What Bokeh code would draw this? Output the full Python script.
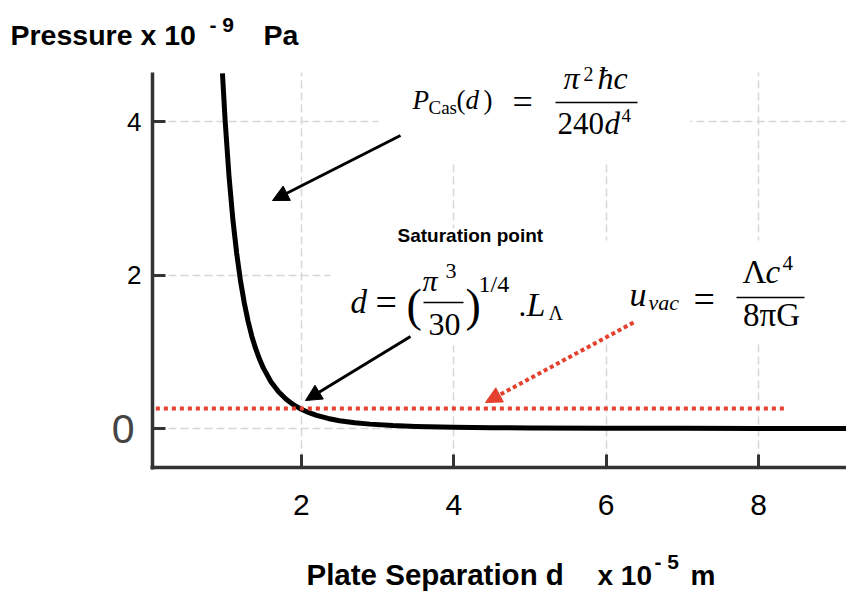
from bokeh.plotting import figure
from bokeh.models import (Range1d, FixedTicker, Label, Arrow, NormalHead, BoxAnnotation,
                          LinearAxis, Grid)
from bokeh.embed import file_html
from bokeh.resources import INLINE

# ---------------- data ----------------
separation = [0.964, 1.00, 1.05, 1.10, 1.15, 1.20, 1.25, 1.30, 1.35, 1.40, 1.45,
              1.50, 1.60, 1.70, 1.80, 1.90, 2.00, 2.10, 2.20, 2.35, 2.50, 2.70,
              2.90, 3.20, 3.50, 4.00, 4.50, 5.00, 6.00, 7.00, 8.00, 9.30]
pressure = [4.63, 4.00, 3.29, 2.73, 2.29, 1.93, 1.64, 1.40, 1.20, 1.04, 0.905,
            0.79, 0.61, 0.479, 0.381, 0.307, 0.25, 0.206, 0.171, 0.131, 0.102, 0.075,
            0.057, 0.038, 0.027, 0.016, 0.010, 0.0064, 0.0031, 0.0017, 0.001, 0.0005]

saturation_x = [0.09, 8.35]
saturation_y = [0.26, 0.26]

x_ticks = [2, 4, 6, 8]
x_tick_labels = ["2", "4", "6", "8"]
y_ticks = [0, 2, 4]
y_tick_labels = ["0", "2", "4"]

# ---------------- geometry (page pixels -> data) ----------------
W, H = 846, 592
AX_L, AX_T, AX_B = 152, 72, 467      # plot-area edges on the page

D0_PAGE, PX_PER_D = 148.5, 76.2
P0_PAGE, PX_PER_P = 428.0, 76.7


def dx(px):
    return (px - D0_PAGE) / PX_PER_D


def dy(py):
    return (P0_PAGE - py) / PX_PER_P


SANS = "Liberation Sans"
SERIF = "Liberation Serif"
RED = "#e5402d"
AXIS = "#333333"

p = figure(width=W, height=H, output_backend="svg", toolbar_location=None,
           x_range=Range1d(dx(0), dx(W)), y_range=Range1d(dy(H), dy(0)),
           x_axis_type=None, y_axis_type=None, min_border=0, title=None)
p.outline_line_color = None
p.background_fill_color = "white"
p.border_fill_color = "white"

# ---------------- axes (fixed at the plot-area edges) ----------------
xaxis = LinearAxis(fixed_location=dy(AX_B), bounds=(dx(AX_L - 1.75), dx(W)),
                   ticker=FixedTicker(ticks=x_ticks),
                   major_label_overrides=dict(zip(x_ticks, x_tick_labels)))
ylab = dict(zip(y_ticks, y_tick_labels))
zero_label = ylab[0]
ylab[0] = ""
yaxis = LinearAxis(fixed_location=dx(AX_L), bounds=(dy(AX_B + 1.75), dy(AX_T)),
                   ticker=FixedTicker(ticks=y_ticks), major_label_overrides=ylab)
for ax in (xaxis, yaxis):
    ax.axis_line_color = AXIS
    ax.axis_line_width = 3.5
    ax.major_tick_line_color = AXIS
    ax.major_tick_line_width = 3
    ax.major_tick_in = 13
    ax.major_tick_out = 0
    ax.minor_tick_line_color = None
    ax.major_label_text_font = SANS
    ax.major_label_text_color = "black"
xaxis.major_label_text_font_size = "30px"
xaxis.major_label_standoff = 27
yaxis.major_label_text_font_size = "26px"
yaxis.major_label_standoff = 11

# the "0" tick label is drawn larger and greyer in the original
zero_axis = LinearAxis(fixed_location=dx(AX_L), ticker=FixedTicker(ticks=[0]),
                       major_label_overrides={0: zero_label},
                       axis_line_color=None, major_tick_line_color=None,
                       minor_tick_line_color=None, major_label_standoff=12,
                       major_label_text_font=SANS, major_label_text_font_size="41px",
                       major_label_text_color="#444444")

# ---------------- grids ----------------
for dim, ticks in ((0, x_ticks), (1, y_ticks)):
    p.add_layout(Grid(dimension=dim, ticker=FixedTicker(ticks=ticks),
                      grid_line_color="#d6d6d6", grid_line_width=1.5,
                      grid_line_dash="8 4"))

# white areas: outside the plot area, and behind the pasted formulas
masks = [(0, W, 0, AX_T), (0, W, AX_B, H), (0, AX_L, 0, H),
         (378, 690, 72, 160), (330, 575, 228, 345), (575, 846, 240, 340)]
for (l, r, t, b) in masks:
    p.add_layout(BoxAnnotation(left=dx(l), right=dx(r), top=dy(t), bottom=dy(b),
                               fill_color="white", fill_alpha=1.0, line_color=None,
                               level="underlay"))

p.add_layout(xaxis, "below")
p.add_layout(yaxis, "left")
p.add_layout(zero_axis, "left")

# ---------------- curve and saturation level ----------------
p.line(separation, pressure, line_width=5, line_color="black", line_join="round")
p.line(saturation_x, saturation_y, line_width=4, line_color=RED, line_dash="4 4")


def txt(s, px, base_py, size, font=SERIF, style="normal", align="left", color="black"):
    # place text so that its alphabetic baseline lands on base_py (page pixels)
    p.add_layout(Label(x=dx(px), y=dy(base_py - 0.335 * size), text=s, text_font=font,
                       text_font_size=f"{size}px", text_font_style=style,
                       text_align=align, text_baseline="middle", text_color=color))


def bar(x0, x1, py, w=1.6):
    p.add_layout(Arrow(end=None, start=None, x_start=dx(x0), y_start=dy(py),
                       x_end=dx(x1), y_end=dy(py), line_width=w, line_color="black"))


def arrow(x0, y0, x1, y1, color="black", dash="solid", w=3):
    p.add_layout(Arrow(end=NormalHead(size=16, fill_color=color, line_color=color,
                                      line_width=1),
                       x_start=dx(x0), y_start=dy(y0), x_end=dx(x1), y_end=dy(y1),
                       line_width=w, line_color=color, line_dash=dash))


# axis titles
txt("Pressure x 10", 10, 44, 28.5, font=SANS, style="bold")
txt("- 9", 209, 31, 21, font=SANS, style="bold")
txt("Pa", 263, 44, 28.5, font=SANS, style="bold")
txt("Plate Separation d", 306, 584, 29.5, font=SANS, style="bold")
txt("x 10", 597, 584, 28, font=SANS, style="bold")
txt("- 5", 654, 568, 21, font=SANS, style="bold")
txt("m", 690, 584, 28, font=SANS, style="bold")

# formula 1: P_Cas(d) = pi^2 hbar c / 240 d^4
txt("P", 412, 109, 27, style="italic")
txt("Cas", 428, 113, 19)
txt("(", 456, 109, 27)
txt("d", 465, 109, 27, style="italic")
txt(")", 483, 109, 27)
txt("=", 512, 114, 36)
txt("π", 563, 88, 32, style="italic")
txt("2", 583, 80, 20)
txt("ħc", 597, 88, 32, style="italic")
bar(555, 637, 102)
txt("240", 557, 133, 31)
txt("d", 604, 133, 31, style="italic")
txt("4", 621, 121, 19)

# saturation point
txt("Saturation point", 397, 241, 19, font=SANS, style="bold")

# formula 2: d = (pi^3/30)^(1/4) . L_Lambda
txt("d", 350, 313, 33, style="italic")
txt("=", 375, 314, 38)
txt("(", 406, 320, 46)
txt("π", 422, 290, 30, style="italic")
txt("3", 445, 278, 22)
bar(423, 463, 302)
txt("30", 444, 335, 32, align="center")
txt(")", 465, 320, 46)
txt("1/4", 478, 292, 24)
txt(".", 518, 315, 31)
txt("L", 526, 315, 34, style="italic")
txt("Λ", 548, 319, 20)

# formula 3: u_vac = Lambda c^4 / 8 pi G
txt("u", 629, 305, 34, style="italic")
txt("vac", 648, 309, 22, style="italic")
txt("=", 693, 311, 38)
txt("Λ", 742, 283, 33)
txt("c", 765, 283, 33, style="italic")
txt("4", 782, 270, 21)
bar(736, 804, 297)
txt("8πG", 771, 326, 33, align="center")

# arrows
arrow(400, 135, 272, 200)
arrow(410, 336, 305, 400)
arrow(633, 322, 485, 402, color=RED, dash="4 3", w=4)

open("out.html", "w").write(file_html(p, INLINE))
